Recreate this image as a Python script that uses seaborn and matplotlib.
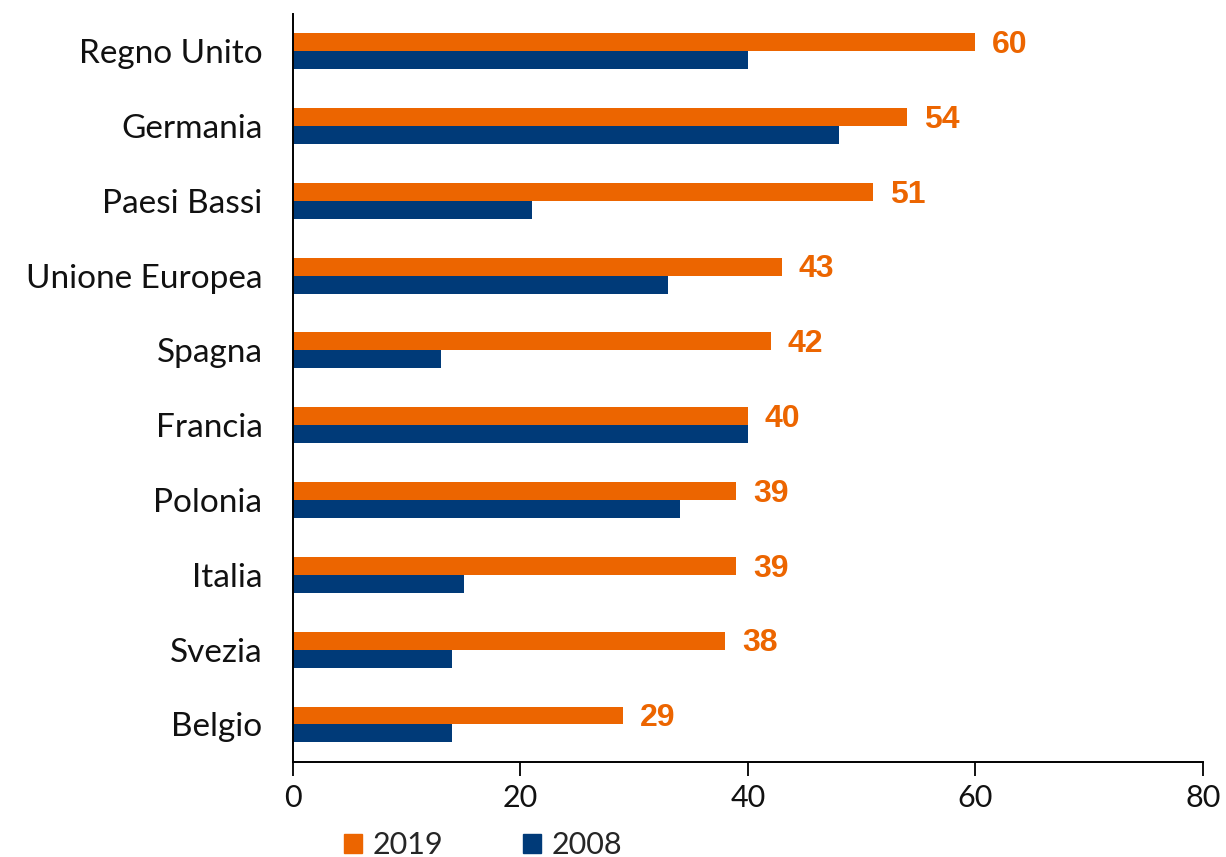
import matplotlib
matplotlib.use("Agg")
import matplotlib.pyplot as plt
import seaborn as sns
import pandas as pd

countries = ["Regno Unito", "Germania", "Paesi Bassi", "Unione Europea", "Spagna",
             "Francia", "Polonia", "Italia", "Svezia", "Belgio"]
values_2019 = [60, 54, 51, 43, 42, 40, 39, 39, 38, 29]
values_2008 = [40, 48, 21, 33, 13, 40, 34, 15, 14, 14]
years = ["2019", "2008"]
x_ticks = [0, 20, 40, 60, 80]

ORANGE = "#EC6500"
BLUE = "#003A78"

df = pd.DataFrame({
    "paese": countries * 2,
    "valore": values_2019 + values_2008,
    "anno": [years[0]] * len(countries) + [years[1]] * len(countries),
})

sns.set_style("white")
plt.rcParams["font.family"] = ["Lato", "DejaVu Sans"]

fig = plt.figure(figsize=(12.26, 8.57), dpi=100)
ax = fig.add_axes([0.239, 0.111, 0.742, 0.873])

sns.barplot(data=df, y="paese", x="valore", hue="anno", hue_order=years,
            order=countries, palette=[ORANGE, BLUE], orient="h", width=0.48,
            saturation=1, linewidth=0, ax=ax, legend=False)

# value labels for the 2019 bars, nudged slightly below the bar centre
for bar, v in zip(ax.containers[0], values_2019):
    ax.annotate(str(v), xy=(bar.get_width(), bar.get_y() + bar.get_height() / 2),
                xytext=(12, -2), textcoords="offset points", ha="left", va="center",
                color=ORANGE, fontsize=23, fontweight="bold", family="Liberation Sans")

ax.set_xlim(0, 80)
ax.set_ylim(9.5, -0.5)
ax.set_xticks(x_ticks)
ax.set_xlabel("")
ax.set_ylabel("")
ax.tick_params(axis="x", labelsize=22, length=10, width=1.3, direction="out",
               bottom=True, pad=6, colors="black")
ax.tick_params(axis="y", labelsize=24, length=0, pad=22, colors="black")
for lbl in ax.get_xticklabels() + ax.get_yticklabels():
    lbl.set_color("#111111")

for s in ["top", "right"]:
    ax.spines[s].set_visible(False)
for s in ["left", "bottom"]:
    ax.spines[s].set_color("black")
    ax.spines[s].set_linewidth(1.4)

handles = [plt.Rectangle((0, 0), 1, 1, color=c) for c in [ORANGE, BLUE]]
fig.legend(handles, years, loc="center", bbox_to_anchor=(0.394, 0.014),
           ncol=2, frameon=False, fontsize=22, handlelength=0.6, handleheight=0.6,
           handletextpad=0.35, columnspacing=2.6, borderaxespad=0)

fig.savefig("out.png", dpi=100)
